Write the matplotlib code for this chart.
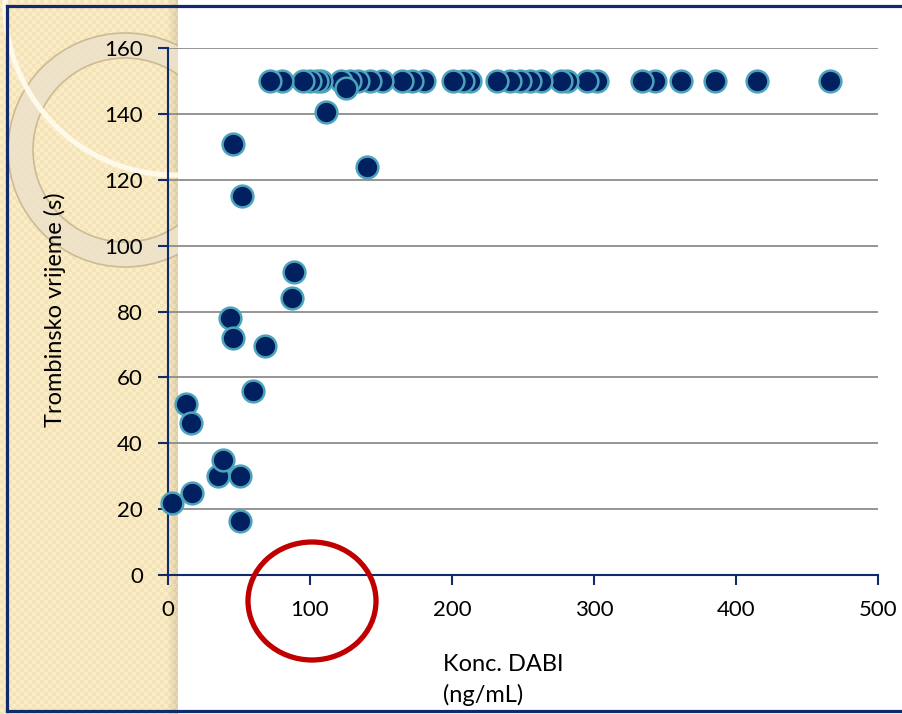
"""Scatter of thrombin time against dabigatran concentration, slide style."""
import numpy as np
import matplotlib.pyplot as plt
from matplotlib.patches import Ellipse, Circle, Wedge, Rectangle

plt.rcParams['font.family'] = ['Lato', 'DejaVu Sans']

# concentration (ng/mL) and thrombin time (s)
conc_low = [3, 13, 16, 17, 35, 39, 44, 46, 46, 51, 51, 52, 60, 68, 87, 89, 111, 125, 140]
tt_low = [22, 52, 46, 25, 30, 35, 78, 72, 131, 30, 16.5, 115, 56, 69.5, 84, 92, 140.5, 148, 124]

# points that hit the 150 s ceiling
conc_top = [72, 80, 95, 100, 105, 108, 122, 128, 134, 142, 151, 165, 172, 180,
            201, 208, 213, 232, 241, 248, 255, 263, 277, 281, 295, 302,
            334, 343, 361, 385, 415, 466]
tt_top = [150] * len(conc_top)

x_ticks = [0, 100, 200, 300, 400, 500]
y_ticks = [0, 20, 40, 60, 80, 100, 120, 140, 160]

NAVY = '#102A6B'
W, H = 902, 714

fig = plt.figure(figsize=(W / 100, H / 100), dpi=100)

# background decoration (pixel coordinates)
bg = fig.add_axes([0, 0, 1, 1], zorder=0)
yy, xx = np.mgrid[0:H, 0:178]
img = np.ones((H, 178, 3)) * np.array([0.953, 0.894, 0.735])
check = ((xx // 4 + yy // 4) % 2) * 0.035
img += check[..., None]
shade = np.clip((xx - 166) / 12.0, 0, 1) * 0.10
img -= shade[..., None]
bg.imshow(np.clip(img, 0, 1), extent=(0, 178, H, 0), interpolation='nearest')
bg.add_patch(Wedge((125, 150), 117, 0, 360, width=25, facecolor='#EDE2CA',
                   edgecolor='#C8B68E', lw=1.2, alpha=0.9))
bg.add_patch(Circle((175, 5), 170, fill=False, edgecolor='#FFF9EA', lw=3.8))
bg.add_patch(Rectangle((178, 0), W - 178, H, facecolor='white', edgecolor='none'))
bg.set_xlim(0, W)
bg.set_ylim(H, 0)
bg.set_aspect('auto')
bg.axis('off')

# main chart
ax = fig.add_axes([168 / W, 1 - 575 / H, 710 / W, 527 / H], zorder=2)
ax.patch.set_alpha(0)
ax.scatter(conc_top[::-1], tt_top, s=245, c='#002060', edgecolors='#4BA3BC',
           linewidths=1.8, zorder=3, clip_on=False)
ax.scatter(conc_low, tt_low, s=245, c='#002060', edgecolors='#4BA3BC',
           linewidths=1.8, zorder=3, clip_on=False)
ax.set_xlim(0, 500)
ax.set_ylim(0, 160)
ax.set_xticks(x_ticks)
ax.set_yticks(y_ticks)
ax.grid(axis='y', color='#8C8C8C', lw=1.3)
ax.set_axisbelow(True)
for side in ['top', 'right']:
    ax.spines[side].set_visible(False)
for side in ['left', 'bottom']:
    ax.spines[side].set_color(NAVY)
    ax.spines[side].set_linewidth(1.5)
ax.tick_params(direction='out', length=7, width=1.5, color=NAVY,
               labelsize=16, pad=11, labelcolor='black')

fig.text(55 / W, 1 - 310 / H, 'Trombinsko vrijeme (s)', rotation=90,
         ha='center', va='center', fontsize=17)
fig.text(443 / W, 1 - 654 / H, 'Konc. DABI\n(ng/mL)', ha='left', va='top',
         fontsize=17, linespacing=1.5)

# frame and highlight ellipse on top
top = fig.add_axes([0, 0, 1, 1], zorder=5)
top.patch.set_alpha(0)
top.plot([7, W], [6, 6], color=NAVY, lw=2.3)
top.plot([7, 7], [6, 711], color=NAVY, lw=2.3)
top.plot([7, W], [711, 711], color=NAVY, lw=2.3)
top.add_patch(Ellipse((312, 601), 128, 118, fill=False, edgecolor='#C00000', lw=3.8))
top.set_xlim(0, W)
top.set_ylim(H, 0)
top.axis('off')

fig.savefig('out.png', dpi=100)
